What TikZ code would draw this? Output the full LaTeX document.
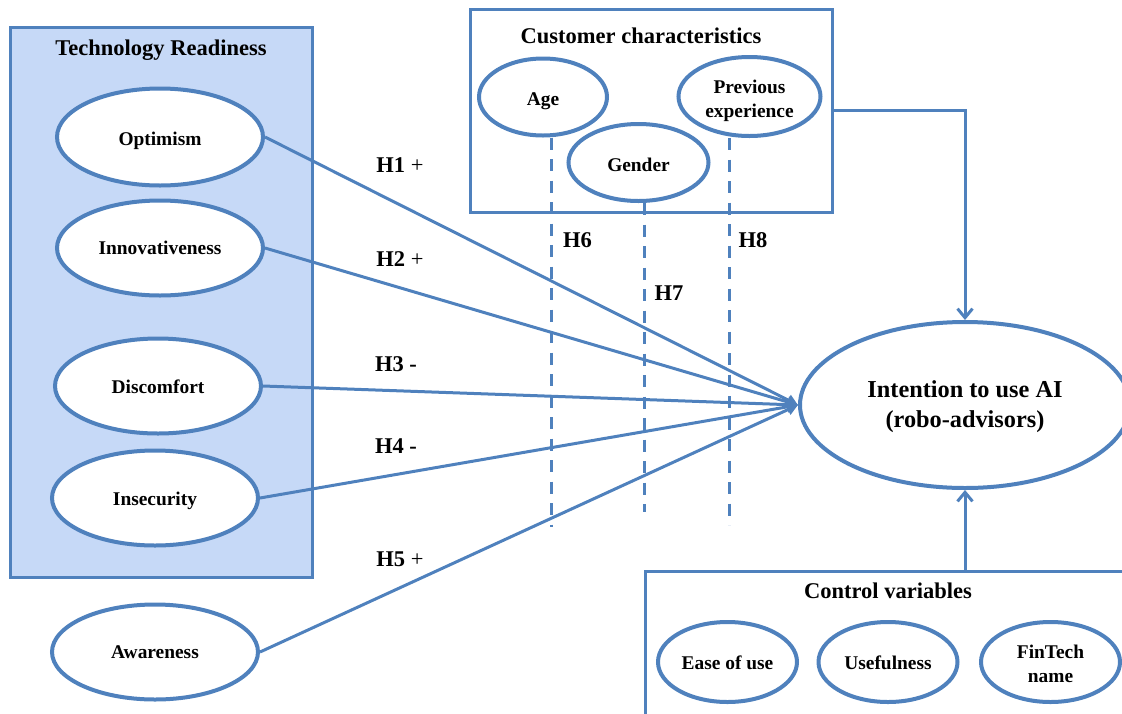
\documentclass[tikz,border=0pt]{standalone}
\usepackage{fontspec}
\setmainfont{Liberation Serif}
\usetikzlibrary{shapes.geometric,arrows.meta}
\definecolor{bord}{RGB}{79,129,189}
\definecolor{tfill}{RGB}{198,217,247}
\newcommand\lblfont{\fontsize{19.4}{24}\selectfont\bfseries}
\newcommand\ttlfont{\fontsize{22.5}{27}\selectfont\bfseries}
\newcommand\hfont{\fontsize{22.5}{27}\selectfont}
\newcommand\intfont{\fontsize{24.3}{30}\selectfont\bfseries}
\begin{document}
\begin{tikzpicture}[x=1pt,y=-1pt,
  ell/.style={ellipse, draw=bord, line width=4pt, fill=white, inner sep=0pt},
  lbl/.style={font=\lblfont, align=center, inner sep=0pt},
  boxnode/.style={rectangle, draw=bord, line width=3pt, inner sep=0pt},
  conn/.style={draw=bord, line width=3pt},
  conv/.style={conn, -{Triangle[length=11pt,width=11pt]}},
  openarr/.style={conn, -{Straight Barb[length=9pt,width=15pt]}},
  hdash/.style={draw=bord, line width=3pt, dash pattern=on 12pt off 9.5pt},
  hyp/.style={font=\hfont, inner sep=0pt},
  ttl/.style={font=\ttlfont, inner sep=0pt}]
\useasboundingbox (0,0) rectangle (1122,713);

% Technology readiness box
\node[boxnode, fill=tfill, minimum width=302pt, minimum height=550pt] (trbox) at (161,302) {};
\node[ttl] (trtitle) at (161,50) {Technology Readiness};
\node[ell, minimum width=206pt, minimum height=97pt, label={[lbl,yshift=-4pt]center:Optimism}] (opt) at (160,137) {};
\node[ell, minimum width=206pt, minimum height=95pt, label={[lbl]center:Innovativeness}] (inn) at (160,248) {};
\node[ell, minimum width=206pt, minimum height=95pt, label={[lbl,yshift=-1pt]center:Discomfort}] (dis) at (158,386) {};
\node[ell, minimum width=206pt, minimum height=95pt, label={[lbl,yshift=-3pt]center:Insecurity}] (ins) at (155,498) {};
\node[ell, minimum width=206pt, minimum height=95pt, label={[lbl]center:Awareness}] (awa) at (155,652) {};

% Customer characteristics box
\node[boxnode, minimum width=362pt, minimum height=203pt] (cc) at (651,110.5) {};
\node[ttl] (cctitle) at (641,36) {Customer characteristics};
\node[ell, minimum width=128pt, minimum height=77pt, label={[lbl,yshift=-4pt]center:Age}] (age) at (543,97) {};
\node[ell, minimum width=140pt, minimum height=77pt, label={[lbl,yshift=-2pt]center:Gender}] (gen) at (638.5,162.5) {};
\node[ell, minimum width=142pt, minimum height=79pt, label={[lbl,yshift=-4pt]center:Previous\\experience}] (pre) at (749.5,96.5) {};

% Intention
\node[ell, minimum width=330pt, minimum height=166pt, label={[lbl,font=\intfont,yshift=-2pt]center:Intention to use AI\\(robo-advisors)}] (int) at (965,405) {};

% Control variables box
\node[boxnode, minimum width=495pt, minimum height=169pt] (cv) at (892.5,655.5) {};
\node[ttl] (cvtitle) at (888,591) {Control variables};
\node[ell, minimum width=139pt, minimum height=80pt, label={[lbl,yshift=-1pt]center:Ease of use}] (eas) at (727.5,662) {};
\node[ell, minimum width=139pt, minimum height=80pt, label={[lbl,yshift=-1pt]center:Usefulness}] (use) at (888,662) {};
\node[ell, minimum width=139pt, minimum height=80pt, label={[lbl,yshift=-2pt]center:FinTech\\name}] (fin) at (1050.5,662) {};

% dashed moderator lines
\coordinate (d6) at (551,527);
\coordinate (d7) at (644,512);
\coordinate (d8) at (729,525);
\draw[hdash] (d6 |- age.south) -- (d6);
\draw[hdash] (d7 |- gen.south) -- (d7);
\draw[hdash] (d8 |- pre.south) -- (d8);

% hypotheses arrows
\draw[conv] (opt.east) -- (int.west);
\draw[conv] (inn.east) -- (int.west);
\draw[conv] (dis.east) -- (int.west);
\draw[conv] (ins.east) -- (int.west);
\draw[conv] (awa.east) -- (int.west);

% box arrows
\draw[openarr] (cc.east) -| (int.north);
\draw[openarr] (cv.north -| int.south) -- (int.south);

% labels
\node[hyp] (h1) at (400,165) {\textbf{H1} +};
\node[hyp] (h2) at (400,259) {\textbf{H2} +};
\node[hyp] (h3) at (396,364) {\textbf{H3 -}};
\node[hyp] (h4) at (396,446) {\textbf{H4 -}};
\node[hyp] (h5) at (400,559) {\textbf{H5} +};
\node[hyp] (h6) at (577.5,240) {\textbf{H6}};
\node[hyp] (h7) at (669,293) {\textbf{H7}};
\node[hyp] (h8) at (753,240) {\textbf{H8}};
\end{tikzpicture}
\end{document}
